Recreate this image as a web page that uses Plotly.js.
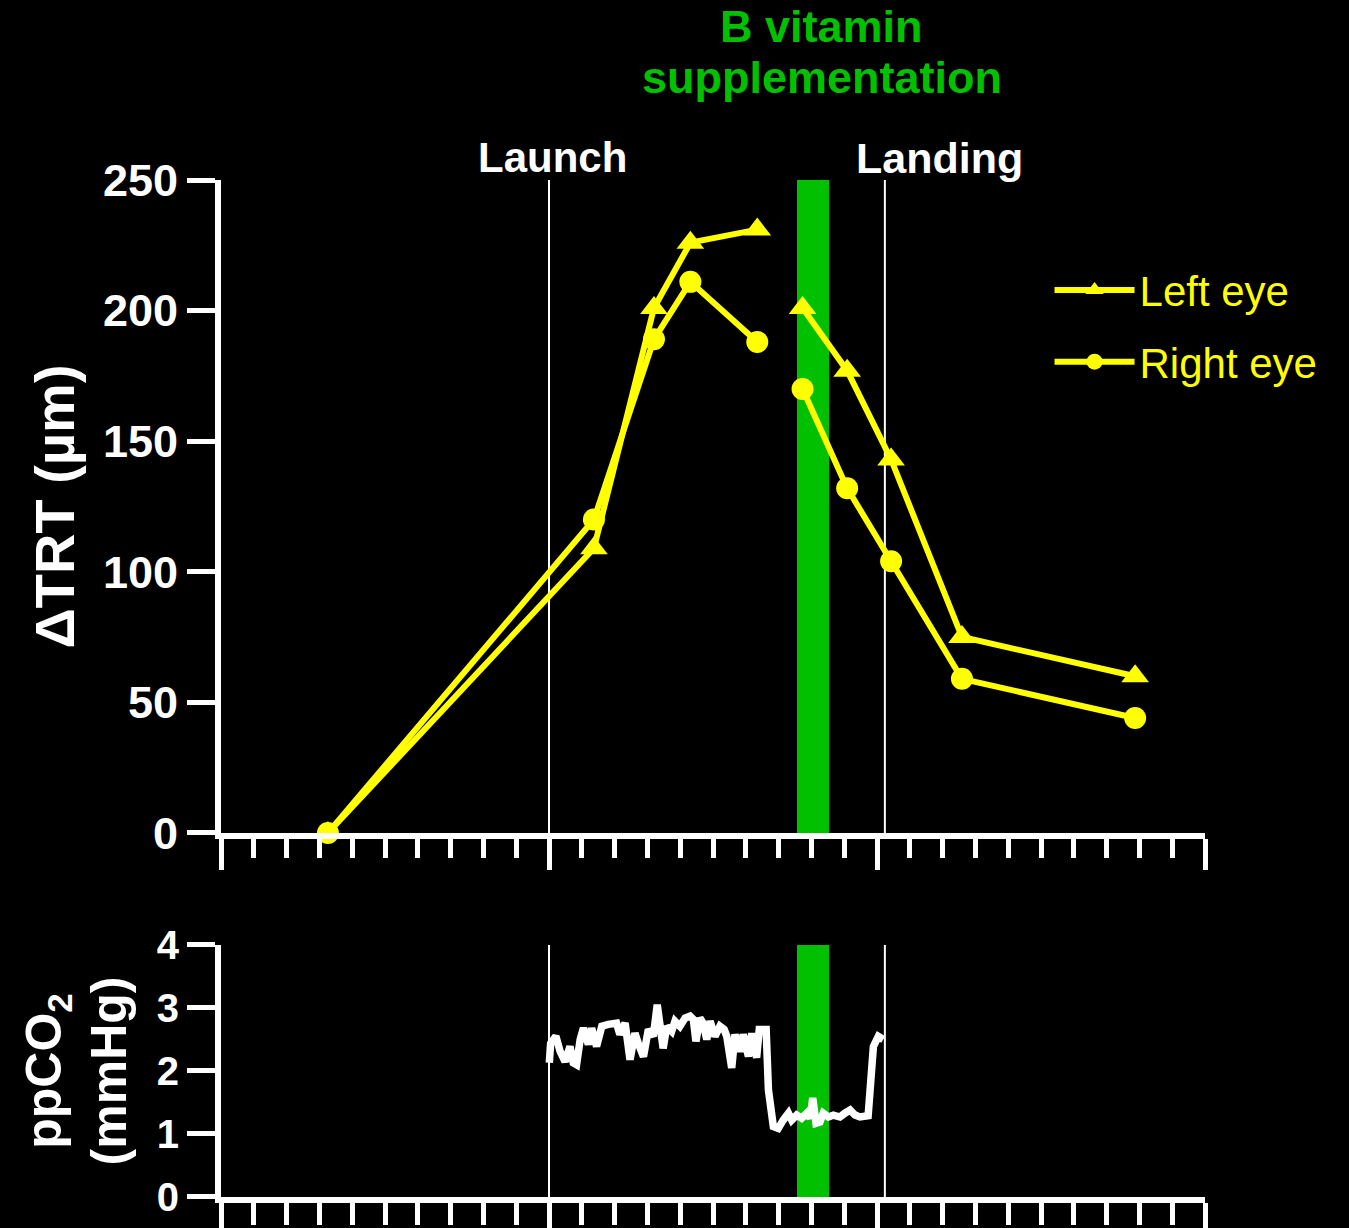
<!DOCTYPE html>
<html>
<head>
<meta charset="utf-8">
<script src="https://cdn.plot.ly/plotly-3.0.1.min.js"></script>
<style>
  html, body { margin: 0; padding: 0; background: #000; }
  #chart { width: 1349px; height: 1228px; }
</style>
</head>
<body>
<div id="chart"></div>
<script>
// ---- Data (x in timeline units; 10 units between major ticks) ----
const leftEyeX  = [3.26, 11.37, 13.2, 14.31, 16.35, null, 17.73, 19.09, 20.43, 22.59, 27.87];
const leftEyeY  = [0,    109,   201,  226,   231,   null, 201,   177,   143,   75,    60];
const rightEyeX = [3.26, 11.37, 13.2, 14.31, 16.35, null, 17.73, 19.09, 20.43, 22.59, 27.87];
const rightEyeY = [0,    120,   189,  211,   188,   null, 170,   132,   104,   59,    44];

const co2X = [10.01,10.05,10.21,10.34,10.49,10.64,10.74,10.84,10.95,11.05,11.20,11.30,11.45,11.61,11.81,12.06,12.16,12.32,12.47,12.62,12.72,12.88,13.03,13.18,13.30,13.38,13.48,13.59,13.74,13.84,13.99,14.15,14.30,14.40,14.48,14.60,14.70,14.81,14.91,15.06,15.21,15.34,15.42,15.57,15.67,15.82,15.92,16.08,16.18,16.33,16.41,16.62,16.69,16.84,16.99,17.14,17.30,17.40,17.55,17.70,17.86,17.96,18.04,18.14,18.26,18.36,18.52,18.67,18.87,19.02,19.18,19.33,19.48,19.73,19.79,19.89,20.04,20.19];
const co2Y = [2.13,2.44,2.55,2.31,2.15,2.39,2.13,2.10,2.50,2.68,2.42,2.68,2.39,2.71,2.74,2.76,2.58,2.76,2.18,2.60,2.44,2.23,2.66,2.55,3.05,2.71,2.36,2.71,2.63,2.79,2.71,2.84,2.87,2.82,2.47,2.84,2.76,2.50,2.79,2.55,2.71,2.66,2.55,2.05,2.58,2.31,2.58,2.23,2.60,2.21,2.66,2.66,1.70,1.12,1.09,1.22,1.33,1.22,1.30,1.25,1.33,1.25,1.57,1.17,1.19,1.33,1.27,1.30,1.27,1.33,1.38,1.30,1.27,1.29,1.91,2.39,2.55,2.50];

const launchX = 10;
const landingX = 20.24;
const suppStart = 17.56;
const suppEnd = 18.54;

const topTicks = [0, 50, 100, 150, 200, 250];
const botTicks = [0, 1, 2, 3, 4];

const FONT = 'Liberation Sans, Arial, Helvetica, sans-serif';
const YELLOW = '#ffff00';
const GREEN = '#00c000';

const traces = [
  {
    x: leftEyeX, y: leftEyeY, name: 'Left eye', type: 'scatter', mode: 'lines+markers',
    xaxis: 'x', yaxis: 'y', cliponaxis: false, connectgaps: false, legendgroup: 'a',
    line: { color: YELLOW, width: 6 },
    marker: { symbol: 'triangle-up', size: 24, color: YELLOW }
  },
  {
    x: rightEyeX, y: rightEyeY, name: 'Right eye', type: 'scatter', mode: 'lines+markers',
    xaxis: 'x', yaxis: 'y', cliponaxis: false, connectgaps: false, legendgroup: 'b',
    line: { color: YELLOW, width: 6 },
    marker: { symbol: 'circle', size: 22, color: YELLOW }
  },
  {
    x: co2X, y: co2Y, name: 'ppCO2', type: 'scatter', mode: 'lines',
    xaxis: 'x2', yaxis: 'y2', showlegend: false, cliponaxis: false,
    line: { color: '#ffffff', width: 7.5 }
  }
];

const xCommon = {
  range: [0, 30], showgrid: false, zeroline: false,
  showline: true, linecolor: '#ffffff', linewidth: 6,
  ticks: 'outside', tickmode: 'linear', tick0: 0, dtick: 10,
  ticklen: 31, tickwidth: 5, tickcolor: '#ffffff',
  showticklabels: false,
  minor: { ticks: 'outside', dtick: 1, tick0: 0, ticklen: 19, tickwidth: 5, tickcolor: '#ffffff' }
};

const layout = {
  width: 1349, height: 1228,
  paper_bgcolor: '#000000', plot_bgcolor: '#000000',
  margin: { l: 221, r: 144, t: 180, b: 31 },
  showlegend: true,
  legend: {
    x: 0.842, xanchor: 'left', y: 0.925, yanchor: 'top',
    bgcolor: 'rgba(0,0,0,0)', tracegroupgap: 14, itemwidth: 80,
    font: { family: FONT, size: 42, color: YELLOW }
  },
  xaxis: Object.assign({}, xCommon, { domain: [0, 1], anchor: 'y' }),
  xaxis2: Object.assign({}, xCommon, { domain: [0, 1], anchor: 'y2', ticklen: 34, minor: Object.assign({}, xCommon.minor, { ticklen: 22 }) }),
  yaxis: {
    domain: [0.358, 1], anchor: 'x', range: [0, 250],
    showgrid: false, zeroline: false, showline: true, linecolor: '#ffffff', linewidth: 6,
    ticks: 'outside', tickvals: topTicks, ticklen: 28, tickwidth: 5, tickcolor: '#ffffff',
    tickfont: { family: FONT, size: 45, color: '#ffffff', weight: 'bold' },
    title: { text: 'ΔTRT (µm)', standoff: 12, font: { family: FONT, size: 56, color: '#ffffff', weight: 'bold' } }
  },
  yaxis2: {
    domain: [0, 0.2478], anchor: 'x2', range: [0, 4],
    showgrid: false, zeroline: false, showline: true, linecolor: '#ffffff', linewidth: 6,
    ticks: 'outside', tickvals: botTicks, ticklen: 28, tickwidth: 5, tickcolor: '#ffffff',
    tickfont: { family: FONT, size: 40, color: '#ffffff', weight: 'bold' },
    title: { text: 'ppCO<sub>2</sub><br>(mmHg)', standoff: 16, font: { family: FONT, size: 50, color: '#ffffff', weight: 'bold' } }
  },
  shapes: [
    { type: 'rect', xref: 'x', yref: 'y', x0: suppStart, x1: suppEnd, y0: 0, y1: 250, fillcolor: GREEN, line: { width: 0 }, layer: 'below' },
    { type: 'rect', xref: 'x2', yref: 'y2', x0: suppStart, x1: suppEnd, y0: 0, y1: 4, fillcolor: GREEN, line: { width: 0 }, layer: 'below' },
    { type: 'line', xref: 'x', yref: 'y', x0: launchX, x1: launchX, y0: 0, y1: 250, line: { color: '#ffffff', width: 2 }, layer: 'below' },
    { type: 'line', xref: 'x', yref: 'y', x0: landingX, x1: landingX, y0: 0, y1: 250, line: { color: '#ffffff', width: 2 }, layer: 'below' },
    { type: 'line', xref: 'x2', yref: 'y2', x0: launchX, x1: launchX, y0: 0, y1: 4, line: { color: '#ffffff', width: 2 }, layer: 'below' },
    { type: 'line', xref: 'x2', yref: 'y2', x0: landingX, x1: landingX, y0: 0, y1: 4, line: { color: '#ffffff', width: 2 }, layer: 'below' }
  ],
  annotations: [
    { text: 'Launch', xref: 'x', yref: 'paper', x: 10.12, y: 1.022, xanchor: 'center', yanchor: 'middle', showarrow: false,
      font: { family: FONT, size: 42, color: '#ffffff', weight: 'bold' } },
    { text: 'Landing', xref: 'x', yref: 'paper', x: 21.92, y: 1.022, xanchor: 'center', yanchor: 'middle', showarrow: false,
      font: { family: FONT, size: 43, color: '#ffffff', weight: 'bold' } },
    { text: 'B vitamin', xref: 'x', yref: 'paper', x: 18.32, y: 1.1505, xanchor: 'center', yanchor: 'middle', showarrow: false,
      font: { family: FONT, size: 45, color: GREEN, weight: 'bold' } },
    { text: 'supplementation', xref: 'x', yref: 'paper', x: 18.32, y: 1.1006, xanchor: 'center', yanchor: 'middle', showarrow: false,
      font: { family: FONT, size: 45, color: GREEN, weight: 'bold' } }
  ]
};

Plotly.newPlot('chart', traces, layout, { displayModeBar: false, staticPlot: true });
</script>
</body>
</html>
